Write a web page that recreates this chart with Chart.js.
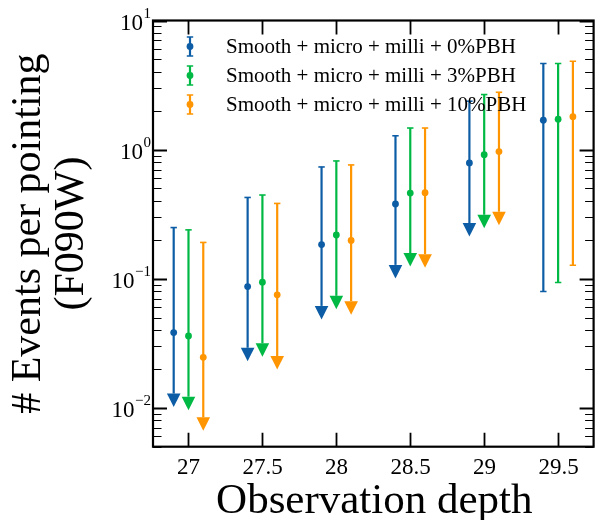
<!DOCTYPE html>
<html>
<head>
<meta charset="utf-8">
<script src="https://cdn.jsdelivr.net/npm/chart.js@4.4.1/dist/chart.umd.min.js"></script>
<style>
  html, body { margin: 0; padding: 0; background: #fff; }
  canvas { display: block; }
</style>
</head>
<body>
<canvas id="chart" width="597" height="520"></canvas>
<script>
// observation depth ticks
const depthTicks = [27, 27.5, 28, 28.5, 29, 29.5];
const depthLabels = ['27', '27.5', '28', '28.5', '29', '29.5'];

// x positions (each series is shifted a bit around the depth)
const xPbh0 = [26.9, 27.4, 27.9, 28.4, 28.9, 29.4];
const xPbh3 = [27.0, 27.5, 28.0, 28.5, 29.0, 29.5];
const xPbh10 = [27.1, 27.6, 28.1, 28.6, 29.1, 29.6];

// events per pointing: central value, upper end, lower end
const evPbh0 = [0.0383, 0.087, 0.184, 0.379, 0.789, 1.69];
const hiPbh0 = [0.249, 0.426, 0.734, 1.28, 2.37, 4.65];
const loPbh0 = [0.0129, 0.0292, 0.0616, 0.128, 0.27, 0.0796];

const evPbh3 = [0.036, 0.094, 0.218, 0.461, 0.914, 1.72];
const hiPbh3 = [0.239, 0.445, 0.817, 1.47, 2.67, 4.65];
const loPbh3 = [0.0122, 0.0316, 0.0737, 0.158, 0.313, 0.0935];

const evPbh10 = [0.0246, 0.075, 0.198, 0.464, 0.965, 1.80];
const hiPbh10 = [0.191, 0.383, 0.761, 1.47, 2.78, 4.84];
const loPbh10 = [0.00844, 0.0252, 0.067, 0.155, 0.33, 0.127];

// lower end is an upper-limit arrow
const isLimit = [true, true, true, true, true, false];

const labels = [
    'Smooth + micro + milli + 0%PBH',
    'Smooth + micro + milli + 3%PBH',
    'Smooth + micro + milli + 10%PBH'
];
const colors = ['#0C5DA5', '#00B945', '#FF9500'];

const FONT = '"Liberation Serif", "Times New Roman", serif';

function buildPoints(xs, ev, hi, lo) {
    return xs.map((x, i) => ({ x: x, y: ev[i], hi: hi[i], lo: lo[i], lim: isLimit[i] }));
}

const errorBars = {
    id: 'errorBars',
    beforeDatasetsDraw(chart) {
        const ctx = chart.ctx;
        const xs = chart.scales.x, ys = chart.scales.y;
        ctx.save();
        chart.data.datasets.forEach(ds => {
            ctx.strokeStyle = ds.backgroundColor;
            ctx.fillStyle = ds.backgroundColor;
            ds.data.forEach(p => {
                const px = xs.getPixelForValue(p.x);
                const top = ys.getPixelForValue(p.hi);
                const bot = ys.getPixelForValue(p.lo);
                ctx.lineWidth = 2.2;
                ctx.beginPath();
                ctx.moveTo(px, top);
                ctx.lineTo(px, bot);
                ctx.stroke();
                ctx.lineWidth = 1.6;
                ctx.beginPath();
                ctx.moveTo(px - 3.2, top);
                ctx.lineTo(px + 3.2, top);
                if (!p.lim) {
                    ctx.moveTo(px - 3.2, bot);
                    ctx.lineTo(px + 3.2, bot);
                }
                ctx.stroke();
                if (p.lim) {
                    ctx.beginPath();
                    ctx.moveTo(px - 6.8, bot);
                    ctx.lineTo(px + 6.8, bot);
                    ctx.lineTo(px, bot + 13.5);
                    ctx.closePath();
                    ctx.fill();
                }
            });
        });
        ctx.restore();
    }
};

const frame = {
    id: 'frame',
    afterDraw(chart) {
        const ctx = chart.ctx;
        const xs = chart.scales.x, ys = chart.scales.y;
        const a = chart.chartArea;
        ctx.save();
        ctx.strokeStyle = '#000';
        ctx.fillStyle = '#000';

        // y ticks, log minor ticks
        for (let e = -3; e <= 1; e++) {
            for (let k = 1; k <= 9; k++) {
                const v = k * Math.pow(10, e);
                if (v < ys.min * 0.999 || v > ys.max * 1.001) continue;
                const py = Math.round(ys.getPixelForValue(v)) + 0.5;
                const major = k === 1;
                const len = major ? 14 : 8.5;
                ctx.lineWidth = major ? 1.8 : 1.2;
                ctx.beginPath();
                ctx.moveTo(a.left, py); ctx.lineTo(a.left + len, py);
                ctx.moveTo(a.right, py); ctx.lineTo(a.right - len, py);
                ctx.stroke();
                if (major) {
                    const sup = e < 0 ? '\u2212' + (-e) : String(e);
                    ctx.font = '15px ' + FONT;
                    ctx.textAlign = 'right';
                    ctx.textBaseline = 'alphabetic';
                    const xr = a.left - 2;
                    ctx.fillText(sup, xr, py - 3.5);
                    const w = ctx.measureText(sup).width;
                    ctx.font = '23px ' + FONT;
                    ctx.fillText('10', xr - w - 0.5, py + 8);
                }
            }
        }

        // x ticks
        depthTicks.forEach((t, i) => {
            const px = Math.round(xs.getPixelForValue(t)) + 0.5;
            ctx.lineWidth = 1.8;
            ctx.beginPath();
            ctx.moveTo(px, a.bottom); ctx.lineTo(px, a.bottom - 14);
            ctx.moveTo(px, a.top); ctx.lineTo(px, a.top + 14);
            ctx.stroke();
            ctx.font = '23px ' + FONT;
            ctx.textAlign = 'center';
            ctx.textBaseline = 'alphabetic';
            ctx.fillText(depthLabels[i], px, 474);
        });

        // spines
        ctx.lineWidth = 2.2;
        ctx.strokeRect(a.left, a.top, a.right - a.left, a.bottom - a.top);

        // axis titles
        ctx.font = '43px ' + FONT;
        ctx.textAlign = 'center';
        ctx.textBaseline = 'alphabetic';
        ctx.fillText('Observation depth', (a.left + a.right) / 2 + 1, 513);

        ctx.save();
        ctx.translate(0, (a.top + a.bottom) / 2);
        ctx.rotate(-Math.PI / 2);
        ctx.font = '42px ' + FONT;
        ctx.fillText('# Events per pointing', 0, 40);
        ctx.fillText('(F090W)', 0, 83);
        ctx.restore();

        // legend
        const rowsY = [46.5, 75.5, 104.5];
        labels.forEach((lab, i) => {
            const cy = rowsY[i];
            const cx = 190;
            ctx.strokeStyle = colors[i];
            ctx.fillStyle = colors[i];
            ctx.lineWidth = 2.2;
            ctx.beginPath();
            ctx.moveTo(cx, cy - 9.5); ctx.lineTo(cx, cy + 9.5);
            ctx.stroke();
            ctx.lineWidth = 1.6;
            ctx.beginPath();
            ctx.moveTo(cx - 3.2, cy - 9.5); ctx.lineTo(cx + 3.2, cy - 9.5);
            ctx.moveTo(cx - 3.2, cy + 9.5); ctx.lineTo(cx + 3.2, cy + 9.5);
            ctx.stroke();
            ctx.beginPath();
            ctx.arc(cx, cy, 3.4, 0, Math.PI * 2);
            ctx.fill();
            ctx.fillStyle = '#000';
            ctx.font = '21px ' + FONT;
            ctx.textAlign = 'left';
            ctx.textBaseline = 'middle';
            ctx.fillText(lab, 226, cy + 1);
        });
        ctx.restore();
    }
};

const ctx = document.getElementById('chart').getContext('2d');
new Chart(ctx, {
    type: 'scatter',
    data: {
        datasets: [
            { label: labels[0], data: buildPoints(xPbh0, evPbh0, hiPbh0, loPbh0), backgroundColor: colors[0] },
            { label: labels[1], data: buildPoints(xPbh3, evPbh3, hiPbh3, loPbh3), backgroundColor: colors[1] },
            { label: labels[2], data: buildPoints(xPbh10, evPbh10, hiPbh10, loPbh10), backgroundColor: colors[2] }
        ]
    },
    options: {
        responsive: false,
        animation: false,
        devicePixelRatio: 1,
        layout: { padding: { left: 153, right: 1.7, top: 20.5, bottom: 73.3 } },
        elements: { point: { radius: 3.4, borderWidth: 0, hoverRadius: 3.4 } },
        plugins: { legend: { display: false }, tooltip: { enabled: false } },
        scales: {
            x: { type: 'linear', min: 26.76, max: 29.74, display: false },
            y: { type: 'logarithmic', min: 0.005, max: 10, display: false }
        }
    },
    plugins: [errorBars, frame]
});
</script>
</body>
</html>
